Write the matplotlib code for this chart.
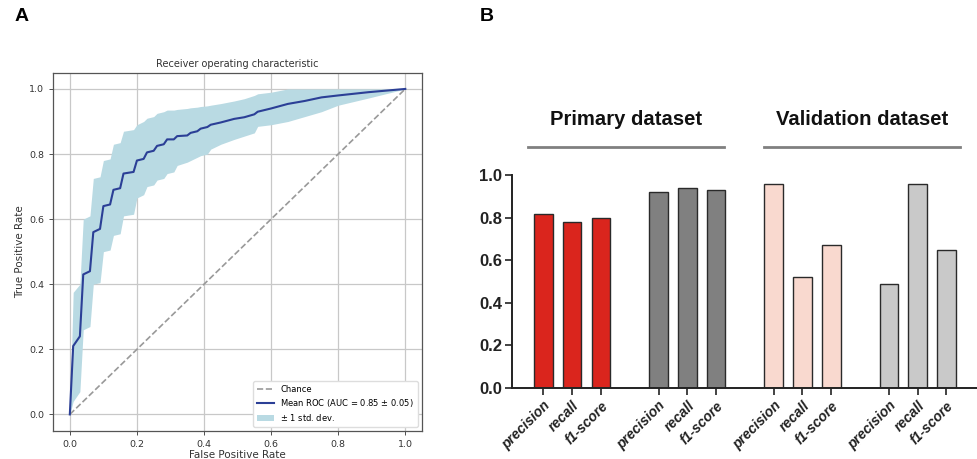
"""
ROC curve (A) and precision / recall / f1 bars (B)
"""
import numpy as np
import matplotlib
matplotlib.use('Agg')
import matplotlib.pyplot as plt
from matplotlib.patches import Patch
from matplotlib.lines import Line2D

''' ==== data ==== '''
# mean ROC and +-1 std band
fpr = [0.0, 0.01, 0.03, 0.04, 0.06, 0.07, 0.09, 0.10, 0.12, 0.13, 0.15, 0.16, 0.19, 0.20,
       0.22, 0.23, 0.25, 0.26, 0.28, 0.29, 0.31, 0.32, 0.35, 0.36, 0.38, 0.39, 0.41, 0.42,
       0.45, 0.49, 0.52, 0.55, 0.56, 0.60, 0.65, 0.70, 0.75, 0.80, 0.89, 1.0]
tpr_mean = [0.0, 0.21, 0.24, 0.43, 0.44, 0.56, 0.57, 0.64, 0.645, 0.69, 0.695, 0.74, 0.745, 0.78,
            0.785, 0.805, 0.81, 0.825, 0.83, 0.845, 0.845, 0.855, 0.857, 0.865, 0.87, 0.878, 0.883, 0.89,
            0.897, 0.908, 0.913, 0.922, 0.93, 0.94, 0.954, 0.963, 0.974, 0.98, 0.99, 1.0]
tpr_upper = [0.0, 0.375, 0.40, 0.60, 0.61, 0.725, 0.73, 0.78, 0.785, 0.83, 0.835, 0.87, 0.875, 0.89,
             0.90, 0.91, 0.915, 0.925, 0.93, 0.935, 0.935, 0.937, 0.94, 0.942, 0.944, 0.946, 0.948, 0.95,
             0.955, 0.963, 0.97, 0.98, 0.985, 0.99, 1.0, 1.0, 1.0, 1.0, 1.0, 1.0]
tpr_lower = [0.0, 0.04, 0.07, 0.26, 0.27, 0.40, 0.405, 0.50, 0.505, 0.55, 0.555, 0.61, 0.615, 0.665,
             0.675, 0.70, 0.705, 0.72, 0.725, 0.74, 0.745, 0.765, 0.775, 0.78, 0.79, 0.795, 0.80, 0.815,
             0.83, 0.845, 0.855, 0.865, 0.885, 0.89, 0.90, 0.915, 0.93, 0.95, 0.972, 1.0]

# panel B
groups = ['Primary dataset', 'Validation dataset']
metrics = ['precision', 'recall', 'f1-score']
primary_a = [0.82, 0.78, 0.80]
primary_b = [0.92, 0.94, 0.93]
valid_a = [0.96, 0.52, 0.67]
valid_b = [0.49, 0.96, 0.65]

fig = plt.figure(figsize=(9.77, 4.59), dpi=100)

#------ A: ROC
ax = fig.add_axes([0.0543, 0.0617, 0.3777, 0.780])
ax.grid(True, color='#c8c8c8', linewidth=0.9)
ax.set_axisbelow(True)
ax.plot([0, 1], [0, 1], linestyle='--', color='#999999', linewidth=1.2)
ax.fill_between(fpr, tpr_lower, tpr_upper, color='#b9dae3', linewidth=0)
ax.plot(fpr, tpr_mean, color='#2b3f96', linewidth=1.5)
ax.set_xlim(-0.05, 1.05)
ax.set_ylim(-0.05, 1.05)
ax.set_xticks(np.arange(0, 1.01, 0.2))
ax.set_yticks(np.arange(0, 1.01, 0.2))
ax.tick_params(labelsize=6.8, colors='#333333', length=3, width=0.6)
for s in ax.spines.values():
    s.set_color('#555555')
    s.set_linewidth(0.9)
ax.set_xlabel('False Positive Rate', fontsize=7.5, color='#333333', labelpad=1)
ax.set_ylabel('True Positive Rate', fontsize=7.5, color='#333333', labelpad=3)
ax.set_title('Receiver operating characteristic', fontsize=7, color='#333333', pad=4)
handles = [Line2D([], [], linestyle='--', color='#999999', linewidth=1.2),
           Line2D([], [], color='#2b3f96', linewidth=1.5),
           Patch(facecolor='#b9dae3')]
ax.legend(handles, ['Chance', 'Mean ROC (AUC = 0.85 $\\pm$ 0.05)', '$\\pm$ 1 std. dev.'],
          loc='lower right', fontsize=6.0, frameon=True, framealpha=1, edgecolor='#dddddd',
          handlelength=2.0, borderpad=0.45, labelspacing=0.35)

#------ B: bars
bx = fig.add_axes([0.5237, 0.1553, 0.4763, 0.4627])
pos = np.arange(3)
series = [(primary_a, '#da251d'), (primary_b, '#808080'), (valid_a, '#f9d9cf'), (valid_b, '#c9c9c9')]
xt = []
for i, (vals, col) in enumerate(series):
    p = pos + 4 * i
    bx.bar(p, vals, width=0.65, color=col, edgecolor='#2a2a2a', linewidth=1.0)
    xt.extend(p)
bx.set_xlim(-1.1, 15.06)
bx.set_ylim(0, 1.0)
bx.set_yticks(np.arange(0, 1.01, 0.2))
bx.set_yticklabels(['%.1f' % v for v in np.arange(0, 1.01, 0.2)], fontsize=12, fontweight='bold',
                   family='Liberation Sans')
bx.set_xticks(xt)
bx.set_xticklabels(metrics * 4, rotation=45, ha='right', rotation_mode='anchor', fontsize=10,
                   fontweight='bold', fontstyle='italic', family='Liberation Sans')
bx.tick_params(axis='x', length=5, width=1.2, pad=3, colors='#222222')
bx.tick_params(axis='y', length=5, width=1.2, pad=2, colors='#222222')
bx.spines['top'].set_visible(False)
bx.spines['right'].set_visible(False)
bx.spines['left'].set_linewidth(1.4)
bx.spines['bottom'].set_linewidth(1.4)
bx.spines['left'].set_color('#222222')
bx.spines['bottom'].set_color('#222222')

# group headers with underline
for g, (x0, x1) in zip(groups, [(-0.53, 6.27), (7.66, 14.47)]):
    bx.plot([x0, x1], [1.135, 1.135], color='#808080', linewidth=2, clip_on=False)
    bx.text((x0 + x1) / 2, 1.265, g, ha='center', va='center', fontsize=14.6, fontweight='bold',
            family='Liberation Sans', color='#111111', clip_on=False)

fig.text(0.0225, 0.963, 'A', fontsize=14, fontweight='bold', family='Liberation Sans', ha='center', va='center')
fig.text(0.4985, 0.963, 'B', fontsize=14, fontweight='bold', family='Liberation Sans', ha='center', va='center')

plt.savefig('out.png', dpi=100)
plt.close()
